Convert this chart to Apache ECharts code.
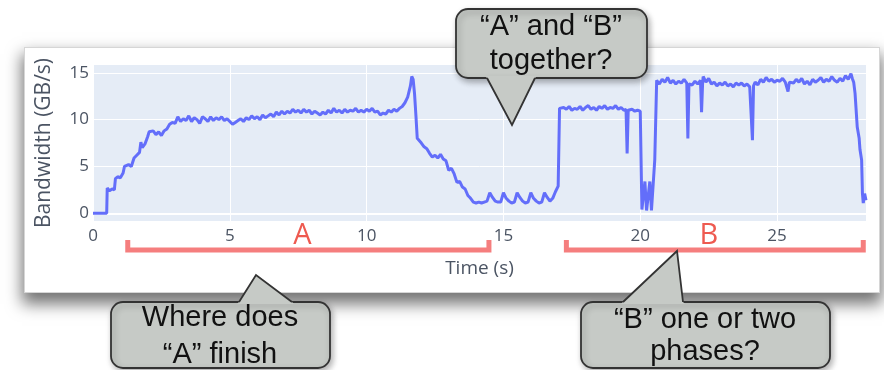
<!DOCTYPE html>
<html>
<head>
<meta charset="utf-8">
<script src="https://cdn.jsdelivr.net/npm/echarts@6/dist/echarts.min.js"></script>
<style>
html,body{margin:0;padding:0;background:#ffffff;width:884px;height:370px;overflow:hidden;}
#card{position:absolute;left:24px;top:47px;width:854px;height:244px;background:#ffffff;border:1px solid #d6d6d6;box-shadow:0 9px 15px 2px rgba(0,0,0,0.55);}
#c{position:absolute;left:0;top:0;width:884px;height:370px;}
</style>
</head>
<body>
<div id="card"></div>
<div id="c"></div>
<script>
// ---- data ----
const timeS = [
  0, 0.5, 0.52, 0.6, 0.7, 0.78, 0.82, 0.9, 1.0, 1.1, 1.15, 1.2, 1.3, 1.4, 1.5, 1.6, 1.7, 1.75, 1.8, 1.9,
  2.0, 2.05, 2.1, 2.2, 2.3, 2.4, 2.5, 2.6, 2.7, 2.8, 2.9, 3.0,
  3.1, 3.2, 3.3, 3.4, 3.5, 3.6, 3.7, 3.8, 3.9,
  4.0, 4.1, 4.2, 4.3, 4.4, 4.5, 4.6, 4.7, 4.8, 4.9,
  5.0, 5.1, 5.2, 5.3, 5.4, 5.5, 5.6, 5.7, 5.8, 5.9,
  6.0, 6.1, 6.2, 6.3, 6.4, 6.5, 6.6, 6.7, 6.8, 6.9,
  7.0, 7.1, 7.2, 7.3, 7.4, 7.5, 7.6, 7.7, 7.8, 7.9,
  8.0, 8.1, 8.2, 8.3, 8.4, 8.5, 8.6, 8.7, 8.8, 8.9,
  9.0, 9.1, 9.2, 9.3, 9.4, 9.5, 9.6, 9.7, 9.8, 9.9,
  10.0, 10.1, 10.2, 10.3, 10.4, 10.5, 10.6, 10.7, 10.8, 10.9,
  11.0, 11.1, 11.2, 11.3, 11.4, 11.5, 11.6, 11.65, 11.7, 11.75, 11.8, 11.85, 11.9,
  12.0, 12.1, 12.2, 12.3, 12.4, 12.5, 12.6, 12.7, 12.8, 12.9,
  13.0, 13.1, 13.2, 13.3, 13.4, 13.5, 13.6, 13.7, 13.8, 13.9,
  14.0, 14.1, 14.2, 14.3, 14.4, 14.5, 14.6, 14.7, 14.8, 14.9,
  15.0, 15.1, 15.2, 15.3, 15.4, 15.5, 15.6, 15.7, 15.8, 15.9,
  16.0, 16.1, 16.2, 16.3, 16.4, 16.5, 16.6, 16.7, 16.8, 16.9,
  17.0, 17.05, 17.1, 17.2, 17.3, 17.4, 17.5, 17.6, 17.7, 17.8, 17.9,
  18.0, 18.1, 18.2, 18.3, 18.4, 18.5, 18.6, 18.7, 18.8, 18.9,
  19.0, 19.1, 19.2, 19.3, 19.4, 19.48, 19.52, 19.56, 19.6, 19.7, 19.8, 19.9, 20.0, 20.04,
  20.06, 20.1, 20.17, 20.23, 20.29, 20.35, 20.41, 20.47, 20.53, 20.6,
  20.7, 20.8, 20.9, 21.0, 21.1, 21.2, 21.3, 21.4, 21.5, 21.6, 21.7, 21.74, 21.78,
  21.8, 21.9, 22.0, 22.1, 22.2, 22.24, 22.28, 22.3, 22.4, 22.5, 22.6, 22.7, 22.8, 22.9,
  23.0, 23.1, 23.2, 23.3, 23.4, 23.5, 23.6, 23.7, 23.8, 23.9,
  24.0, 24.06, 24.1, 24.14, 24.2, 24.3, 24.4, 24.5, 24.6, 24.7, 24.8, 24.9,
  25.0, 25.1, 25.2, 25.3, 25.4, 25.45, 25.5, 25.6, 25.7, 25.8, 25.9,
  26.0, 26.1, 26.2, 26.3, 26.4, 26.5, 26.6, 26.7, 26.8, 26.9,
  27.0, 27.1, 27.2, 27.3, 27.4, 27.5, 27.6, 27.7, 27.75, 27.8, 27.85, 27.93,
  28.0, 28.03, 28.09, 28.12, 28.15, 28.2, 28.25
];
const bandwidth = [
  0, 0, 2.7, 2.4, 2.6, 2.5, 3.7, 3.9, 3.8, 4.3, 5.0, 4.8, 5.2, 5.0, 5.9, 6.2, 6.5, 7.6, 7.0, 7.4,
  8.2, 8.7, 8.5, 8.8, 8.4, 8.7, 8.3, 8.8, 9.0, 9.5, 9.7, 9.6,
  10.3, 9.8, 10.1, 9.9, 10.4, 9.8, 10.2, 10.0, 9.6,
  10.3, 10.1, 9.8, 10.3, 9.9, 10.2, 10.0, 10.3, 9.9, 10.1,
  9.8, 9.5, 9.7, 9.9, 10.1, 9.8, 10.2, 10.0, 10.4, 10.1,
  10.3, 10.0, 10.5, 10.2, 10.4, 10.6, 10.3, 10.8, 10.5, 10.9,
  10.6, 10.9, 10.7, 11.1, 10.8, 11.0, 10.7, 11.1, 10.8, 11.0,
  10.6, 10.9, 10.7, 10.5, 10.8, 10.6, 11.0, 10.7, 11.2, 10.8,
  11.0, 10.7, 11.1, 10.8, 11.0, 10.9, 11.2, 10.8, 11.0, 10.8,
  11.1, 10.9, 11.2, 10.8, 10.9, 10.5, 10.7, 10.6, 11.0, 10.8,
  11.1, 10.9, 11.2, 11.4, 11.8, 12.4, 13.6, 14.6, 14.3, 12.8, 10.5, 8.0, 7.8,
  7.5, 7.1, 6.9, 6.4, 6.0, 6.2, 5.9, 6.3, 5.8, 5.6,
  4.6, 4.8, 4.2, 3.3, 3.4, 2.8, 2.6, 1.9, 1.6, 1.2,
  1.1, 1.2, 1.1, 1.2, 1.3, 2.2, 1.7, 1.3, 1.2, 1.2,
  2.2, 1.6, 1.3, 1.1, 1.2, 2.2, 1.7, 1.3, 1.1, 1.2,
  2.2, 1.6, 1.3, 1.1, 1.2, 2.2, 1.7, 1.3, 1.6, 2.3,
  2.9, 11.2, 11.0, 11.3, 11.1, 11.4, 11.0, 11.2, 11.1, 11.4, 11.0,
  11.3, 11.5, 11.1, 11.3, 11.0, 11.4, 11.2, 11.5, 11.1, 11.3,
  11.2, 11.5, 11.1, 11.3, 11.0, 11.1, 6.4, 11.0, 10.9, 11.1, 10.9, 11.0, 10.9, 11.0,
  0.4, 0.3, 3.4, 0.3, 0.3, 3.4, 0.3, 0.3, 5.7, 14.2,
  13.8, 14.3, 14.0, 14.5, 13.9, 14.2, 13.8, 14.1, 13.9, 14.3, 13.9, 8.0, 13.8,
  14.0, 13.7, 14.1, 13.8, 14.2, 10.8, 14.0, 14.6, 14.0, 14.4, 13.8, 14.0, 13.6, 13.9,
  13.7, 14.0, 13.6, 13.8, 13.5, 13.9, 13.7, 13.9, 13.6, 13.8,
  13.5, 13.7, 7.8, 13.6, 14.0, 13.7, 14.3, 14.0, 14.5, 14.1, 14.3, 14.0,
  14.2, 14.1, 14.4, 14.0, 13.0, 14.0, 14.2, 13.9, 14.3, 14.0, 14.4,
  13.8, 14.1, 13.7, 14.3, 14.0, 14.2, 14.5, 14.0, 14.3, 14.1,
  14.6, 14.2, 14.0, 14.4, 14.1, 14.7, 14.3, 14.9, 14.4, 14.0, 12.8, 9.2,
  8.0, 6.8, 5.7, 2.1, 1.1, 2.1, 1.4
];
const xTicks = [0, 5, 10, 15, 20, 25];
const yTicks = [0, 5, 10, 15];
const phaseA = [1.27, 14.47];   // time span of bracket "A"
const phaseB = [17.3, 28.15];   // time span of bracket "B"
const phaseLabels = ['A', 'B'];
const calloutTop = ['\u201CA\u201D and \u201CB\u201D', 'together?'];
const calloutLeft = ['Where does', '\u201CA\u201D finish'];
const calloutRight = ['\u201CB\u201D one or two', 'phases?'];

// ---- chart ----
const chart = echarts.init(document.getElementById('c'), null, {renderer: 'canvas'});
const labelColor = '#4b5463';
const axisFont = 'Open Sans';

chart.setOption({
  animation: false,
  backgroundColor: 'transparent',
  grid: {left: 93, right: 18, top: 65, bottom: 149, show: true, backgroundColor: '#E5ECF6', borderWidth: 0},
  xAxis: {
    type: 'value', min: 0, max: 28.25, interval: 5,
    axisLine: {show: false}, axisTick: {show: false},
    splitLine: {show: true, lineStyle: {color: '#ffffff', width: 1}},
    axisLabel: {customValues: xTicks, color: labelColor, fontSize: 17, fontFamily: axisFont, margin: 7},
    name: 'Time (s)', nameLocation: 'middle', nameGap: 38,
    nameTextStyle: {color: labelColor, fontSize: 19, fontFamily: axisFont}
  },
  yAxis: {
    type: 'value', min: -0.82, max: 15.83,
    axisLine: {show: false}, axisTick: {show: false}, splitLine: {show: false},
    axisLabel: {customValues: yTicks, color: labelColor, fontSize: 17, fontFamily: axisFont, margin: 4},
    name: 'Bandwidth (GB/s)', nameLocation: 'middle', nameGap: 38, nameRotate: 90,
    nameTextStyle: {color: labelColor, fontSize: 21, fontFamily: axisFont}
  },
  series: [{
    type: 'line',
    data: timeS.map((t, i) => [t, bandwidth[i]]),
    showSymbol: false, symbol: 'none',
    lineStyle: {color: '#636EFA', width: 3},
    z: 3,
    markLine: {
      z: 1, silent: true, symbol: 'none', label: {show: false},
      lineStyle: {color: '#ffffff', type: 'solid', width: 1},
      data: yTicks.map(v => ({yAxis: v, lineStyle: {color: '#ffffff', type: 'solid', width: v === 0 ? 2 : 1}}))
    }
  }]
});

// ---- annotations (brackets placed through the x scale) ----
const px = t => chart.convertToPixel({xAxisIndex: 0}, t);
const barY = 250, tickTop = 240;
const bracketColor = 'rgba(244,112,112,0.9)';
const letterColor = '#ee5a50';
function bracket(span, letter) {
  const x0 = px(span[0]), x1 = px(span[1]);
  return [
    {type: 'polyline', z: 50, shape: {points: [[x0, tickTop], [x0, barY], [x1, barY], [x1, tickTop]]},
     style: {stroke: bracketColor, lineWidth: 5, fill: null, lineJoin: 'miter'}},
    {type: 'text', z: 50, style: {text: letter, x: (x0 + x1) / 2 - 6, y: 236, fill: letterColor,
      font: '29px "Open Sans"', textAlign: 'center', textVerticalAlign: 'middle', align: 'center', verticalAlign: 'middle'}}
  ];
}

const boxFill = '#c6cac6', boxStroke = '#333333';
function callout(box, ptr, lines, lineYs, cx) {
  const inward = ptr[1][1] > box[1] ? -2 : 2;
  const els = [
    {type: 'rect', z: 100, shape: {x: box[0], y: box[1], width: box[2], height: box[3], r: 12},
     style: {fill: boxFill, stroke: boxStroke, lineWidth: 1.8, shadowBlur: 6, shadowOffsetX: 2, shadowOffsetY: 3, shadowColor: 'rgba(0,0,0,0.3)'}},
    {type: 'polygon', z: 101, shape: {points: [[ptr[0][0] - 2, ptr[0][1] + inward], ptr[0], ptr[1], ptr[2], [ptr[2][0] + 2, ptr[2][1] + inward]]},
     style: {fill: boxFill, stroke: null}},
    {type: 'polyline', z: 102, shape: {points: ptr}, style: {stroke: boxStroke, lineWidth: 1.8, fill: null}}
  ];
  lines.forEach((s, i) => els.push({type: 'text', z: 103, style: {text: s, x: cx, y: lineYs[i], fill: '#111111',
    font: '29px "Liberation Sans"', textAlign: 'center', textVerticalAlign: 'middle', align: 'center', verticalAlign: 'middle'}}));
  return els;
}

const elements = []
  .concat(bracket(phaseA, phaseLabels[0]))
  .concat(bracket(phaseB, phaseLabels[1]))
  .concat(callout([456, 9, 191, 69], [[487, 78], [512, 125], [535, 78]], calloutTop, [27, 61], 551))
  .concat(callout([111, 302, 219, 66], [[239, 302], [256, 275], [292, 302]], calloutLeft, [318, 355], 220))
  .concat(callout([581, 302, 249, 66], [[623, 302], [677, 251], [683, 302]], calloutRight, [320, 352], 705));

chart.setOption({graphic: {elements: elements}});
</script>
</body>
</html>
